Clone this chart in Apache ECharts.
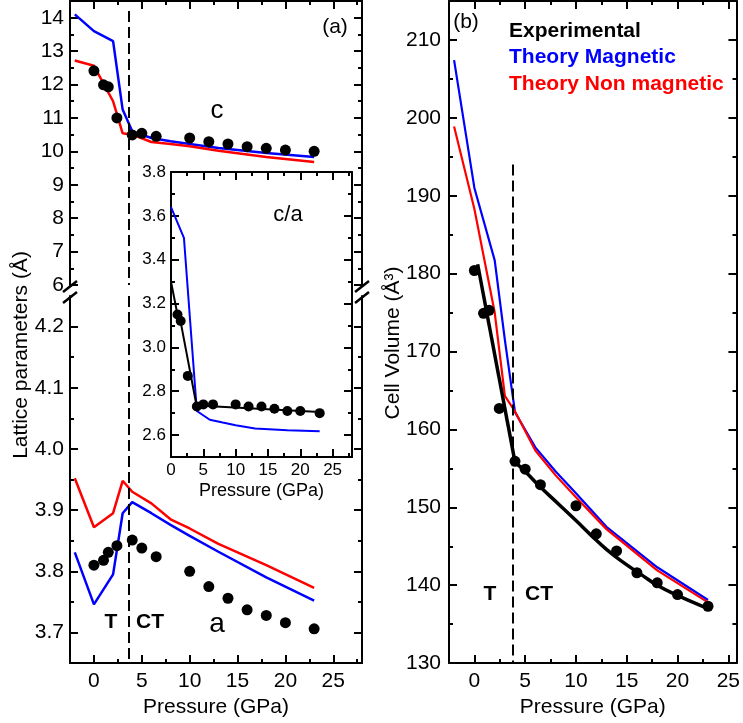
<!DOCTYPE html>
<html>
<head>
<meta charset="utf-8">
<script src="https://cdn.jsdelivr.net/npm/echarts@6/dist/echarts.min.js"></script>
<style>
html, body { margin: 0; background: #fff; }
#chart { width: 743px; height: 723px; }
</style>
</head>
<body>
<div id="chart"></div>
<script>
var FONT = "'Liberation Sans', Arial, sans-serif";

// tick positions
var pressTicks = [0, 5, 10, 15, 20, 25];
var pressMinor = [2.5, 7.5, 12.5, 17.5, 22.5, 27.5];
var cTicks = [6, 7, 8, 9, 10, 11, 12, 13, 14];
var cMinor = [6.5, 7.5, 8.5, 9.5, 10.5, 11.5, 12.5, 13.5];
var aTicks = [3.7, 3.8, 3.9, 4.0, 4.1, 4.2];
var aMinor = [3.75, 3.85, 3.95, 4.05, 4.15];
var caTicks = [2.6, 2.8, 3.0, 3.2, 3.4, 3.6, 3.8];
var caMinor = [2.7, 2.9, 3.1, 3.3, 3.5, 3.7];
var volTicks = [130, 140, 150, 160, 170, 180, 190, 200, 210];
var volMinor = [135, 145, 155, 165, 175, 185, 195, 205];

// panel (a): lattice parameters
var expPress = [0, 1, 1.5, 2.4, 4, 5, 6.5, 10, 12, 14, 16, 18, 20, 23];
var cExp = [12.41, 11.99, 11.93, 11.0, 10.49, 10.54, 10.45, 10.4, 10.29, 10.22, 10.14, 10.09, 10.04, 10.0];
var aExp = [3.81, 3.818, 3.831, 3.842, 3.851, 3.838, 3.824, 3.80, 3.775, 3.756, 3.737, 3.728, 3.716, 3.706];
var thPress = [-2, 0, 2, 3, 4, 6, 8, 10, 13, 18, 23];
var cMag = [14.1, 13.6, 13.3, 11.25, 10.6, 10.4, 10.3, 10.22, 10.1, 9.95, 9.83];
var cNonMag = [12.72, 12.56, 11.5, 10.54, 10.5, 10.28, 10.22, 10.15, 10.02, 9.83, 9.68];
var aMag = [3.831, 3.746, 3.795, 3.895, 3.913, 3.895, 3.876, 3.858, 3.832, 3.79, 3.752];
var aNonMag = [3.952, 3.872, 3.895, 3.948, 3.93, 3.911, 3.885, 3.87, 3.845, 3.81, 3.773];
var transitionA = 3.6;

// inset: c/a
var caExpPress = [1, 1.5, 2.6, 4, 5, 6.5, 10, 12, 14, 16, 18, 20, 23];
var caExp = [3.15, 3.12, 2.87, 2.73, 2.74, 2.74, 2.74, 2.73, 2.73, 2.72, 2.71, 2.71, 2.70];
var caFitPress = [0, 1, 1.5, 3.95, 23];
var caFit = [3.30, 3.15, 3.115, 2.735, 2.705];
var caMagPress = [0, 2, 4, 6, 8, 10, 13, 18, 23];
var caMag = [3.64, 3.5, 2.71, 2.67, 2.657, 2.645, 2.63, 2.622, 2.618];

// panel (b): cell volume
var volExpPress = [0, 0.9, 1.45, 2.45, 4, 5, 6.5, 10, 12, 14, 16, 18, 20, 23];
var volExp = [180.4, 174.9, 175.3, 162.7, 155.9, 154.9, 152.9, 150.2, 146.6, 144.4, 141.6, 140.3, 138.8, 137.3];
var fitTPress = [0.32, 4];
var fitT = [181.2, 155.8];
var fitCTPress = [4, 5, 6.5, 8.3, 10, 11.5, 13, 14.8, 16.5, 18, 20, 22.6, 23];
var fitCT = [155.8, 154.6, 152.6, 150.4, 148.3, 146.4, 144.6, 142.8, 141.3, 140.0, 138.7, 137.2, 137.0];
var volMag = [207.4, 191.0, 181.7, 171.5, 162.2, 157.7, 154.6, 151.8, 147.5, 142.3, 138.1];
var volNonMag = [198.9, 188.3, 175.0, 164.3, 162.3, 157.3, 154.1, 151.3, 147.2, 141.9, 137.8];
var transitionB = 3.74;

var xAxes = [];
var yAxes = [];

// adds a major-tick axis (optionally labelled) plus a minor-tick axis at the same side
function axisSet(list, grid, pos, min, max, major, minor, label, extra) {
    var main = {
        type: 'value', gridIndex: grid, position: pos, min: min, max: max,
        splitLine: { show: false },
        axisLine: { show: true, onZero: false, lineStyle: { color: '#000', width: 2 } },
        axisTick: { show: true, inside: true, length: 8, customValues: major, lineStyle: { color: '#000', width: 2 } },
        axisLabel: label
            ? Object.assign({ show: true, customValues: major, color: '#000', fontFamily: FONT }, label)
            : { show: false }
    };
    list.push(Object.assign(main, extra || {}));
    var idx = list.length - 1;
    list.push({
        type: 'value', gridIndex: grid, position: pos, min: min, max: max,
        splitLine: { show: false },
        axisLine: { show: false, onZero: false },
        axisTick: { show: true, inside: true, length: 4, customValues: minor, lineStyle: { color: '#000', width: 2 } },
        axisLabel: { show: false }
    });
    return idx;
}

function fixed1(v) { return v.toFixed(1); }

var nameStyle = { fontFamily: FONT, fontSize: 21, color: '#000' };

// grid 0: c (top part of panel a)
var x0 = axisSet(xAxes, 0, 'top', -2.5, 28, pressTicks, pressMinor, null);
var y0 = axisSet(yAxes, 0, 'left', 6, 14.5, cTicks, cMinor, { fontSize: 21, margin: 6 });
axisSet(yAxes, 0, 'right', 6, 14.5, cTicks, cMinor, null);

// grid 1: a (bottom part of panel a)
var x1 = axisSet(xAxes, 1, 'bottom', -2.5, 28, pressTicks, pressMinor, { fontSize: 21, margin: 8 },
    { name: 'Pressure (GPa)', nameLocation: 'middle', nameGap: 30, nameTextStyle: nameStyle });
var y1 = axisSet(yAxes, 1, 'left', 3.65, 4.25, aTicks, aMinor, { fontSize: 21, margin: 6, formatter: fixed1 });
axisSet(yAxes, 1, 'right', 3.65, 4.25, aTicks, aMinor, null);

// grid 2: inset c/a
var x2 = axisSet(xAxes, 2, 'bottom', 0, 28, pressTicks, pressMinor, { fontSize: 17, margin: 5 },
    { name: 'Pressure (GPa)', nameLocation: 'middle', nameGap: 25, nameTextStyle: { fontFamily: FONT, fontSize: 18, color: '#000' } });
axisSet(xAxes, 2, 'top', 0, 28, pressTicks, pressMinor, null);
var y2 = axisSet(yAxes, 2, 'left', 2.5, 3.8, caTicks, caMinor, { fontSize: 17, margin: 5, formatter: fixed1 });
axisSet(yAxes, 2, 'right', 2.5, 3.8, caTicks, caMinor, null);

// grid 3: panel b
var x3 = axisSet(xAxes, 3, 'bottom', -2.5, 25.8, pressTicks, pressMinor, { fontSize: 21, margin: 8 },
    { name: 'Pressure (GPa)', nameLocation: 'middle', nameGap: 30, nameTextStyle: nameStyle });
axisSet(xAxes, 3, 'top', -2.5, 25.8, pressTicks, pressMinor, null);
var y3 = axisSet(yAxes, 3, 'left', 130, 215, volTicks, volMinor, { fontSize: 21, margin: 8 });
axisSet(yAxes, 3, 'right', 130, 215, volTicks, volMinor, null);

function pts(xs, ys) {
    return xs.map(function (x, i) { return [x, ys[i]]; });
}

function line(xi, yi, xs, ys, color, width, extra) {
    return Object.assign({
        type: 'line', xAxisIndex: xi, yAxisIndex: yi, data: pts(xs, ys),
        showSymbol: false, symbol: 'none', silent: true,
        lineStyle: { color: color, width: width }, z: 2
    }, extra || {});
}

function dots(xi, yi, xs, ys, size) {
    return {
        type: 'scatter', xAxisIndex: xi, yAxisIndex: yi, data: pts(xs, ys),
        symbol: 'circle', symbolSize: size, itemStyle: { color: '#000', opacity: 1 }, silent: true, z: 4
    };
}

function dashed(x, yTop, yBottom) {
    return {
        silent: true, symbol: 'none', animation: false,
        label: { show: false },
        lineStyle: { color: '#000', width: 2, type: [11, 5] },
        data: [[{ coord: [x, yTop] }, { coord: [x, yBottom] }]]
    };
}

var series = [
    line(x0, y0, thPress, cMag, '#0000ff', 2.5, { markLine: dashed(transitionA, 14.2, 6) }),
    line(x0, y0, thPress, cNonMag, '#ff0000', 2.5),
    dots(x0, y0, expPress, cExp, 11),

    line(x1, y1, thPress, aMag, '#0000ff', 2.5, { markLine: dashed(transitionA, 4.25, 3.65) }),
    line(x1, y1, thPress, aNonMag, '#ff0000', 2.5),
    dots(x1, y1, expPress, aExp, 11),

    line(x2, y2, caMagPress, caMag, '#0000ff', 2),
    line(x2, y2, caFitPress, caFit, '#000', 2),
    dots(x2, y2, caExpPress, caExp, 10),

    line(x3, y3, thPress, volMag, '#0000ff', 2.2, { markLine: dashed(transitionB, 194, 130) }),
    line(x3, y3, thPress, volNonMag, '#ff0000', 2.2),
    line(x3, y3, fitTPress, fitT, '#000', 3.5),
    line(x3, y3, fitCTPress, fitCT, '#000', 3.5, { smooth: true }),
    dots(x3, y3, volExpPress, volExp, 11)
];

function txt(x, y, text, size, opts) {
    return {
        type: 'text', x: x, y: y, z: 10, silent: true,
        rotation: (opts && opts.rotation) || 0,
        style: {
            text: text, fontFamily: FONT, fontSize: size,
            fontWeight: (opts && opts.bold) ? 'bold' : 'normal',
            fill: (opts && opts.color) || '#000',
            align: (opts && opts.align) || 'center', verticalAlign: 'middle'
        }
    };
}

function slash(x1, y1, x2, y2) {
    return {
        type: 'line', z: 10, silent: true,
        shape: { x1: x1, y1: y1, x2: x2, y2: y2 },
        style: { stroke: '#000', lineWidth: 2.5 }
    };
}

var graphic = [
    // axis break marks
    slash(63, 292, 77, 281), slash(63, 303, 77, 292),
    slash(355, 292, 369, 281), slash(355, 303, 369, 292),
    // axis titles
    txt(21, 355, 'Lattice parameters (Å)', 21, { rotation: Math.PI / 2 }),
    txt(393, 343, 'Cell Volume (Å³)', 21, { rotation: Math.PI / 2 }),
    // annotations, panel a
    txt(335, 27, '(a)', 21),
    txt(217, 111, 'c', 26),
    txt(288, 215, 'c/a', 22),
    txt(217, 624, 'a', 28),
    txt(111, 622, 'T', 21, { bold: true }),
    txt(150, 622, 'CT', 21, { bold: true }),
    // annotations, panel b
    txt(466, 22, '(b)', 21),
    txt(509, 31, 'Experimental', 21, { bold: true, align: 'left' }),
    txt(509, 57, 'Theory Magnetic', 21, { bold: true, align: 'left', color: '#0000ff' }),
    txt(509, 84, 'Theory Non magnetic', 21, { bold: true, align: 'left', color: '#ff0000' }),
    txt(490, 594, 'T', 21, { bold: true }),
    txt(539, 594, 'CT', 21, { bold: true })
];

var chart = echarts.init(document.getElementById('chart'));
chart.setOption({
    animation: false,
    backgroundColor: '#fff',
    grid: [
        { left: 70, top: 1, width: 292, height: 284 },
        { left: 70, top: 296, width: 292, height: 371 },
        { left: 171, top: 172, width: 181, height: 285 },
        { left: 449, top: 1, width: 290, height: 666 }
    ],
    xAxis: xAxes,
    yAxis: yAxes,
    series: series,
    graphic: graphic
});
</script>
</body>
</html>
